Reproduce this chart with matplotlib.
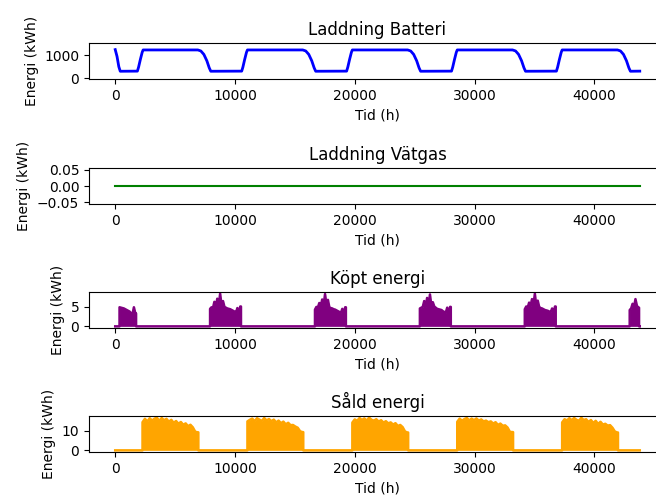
import numpy as np
import matplotlib
matplotlib.use("Agg")
import matplotlib.pyplot as plt

# ── data ──────────────────────────────────────────────────────────
N_HOURS = 43800

# battery state of charge, breakpoints (h, kWh)
batt_t = [0, 150, 300, 420, 1850, 1950, 2100, 2250, 2330,
          6900, 7150, 7400, 7650, 7850, 7980,
          10560, 10660, 10810, 10960, 11040,
          15660, 15910, 16160, 16410, 16610, 16740,
          19320, 19420, 19570, 19720, 19800,
          24420, 24670, 24920, 25170, 25370, 25500,
          28080, 28180, 28330, 28480, 28560,
          33180, 33430, 33680, 33930, 34130, 34260,
          36840, 36940, 37090, 37240, 37320,
          41940, 42190, 42440, 42690, 42890, 43020, 43799]
batt_kwh = [1250, 950, 500, 300, 305, 480, 820, 1130, 1235,
            1235, 1190, 1040, 760, 450, 300,
            305, 480, 820, 1130, 1235,
            1235, 1190, 1040, 760, 450, 300,
            305, 480, 820, 1130, 1235,
            1235, 1190, 1040, 760, 450, 300,
            305, 480, 820, 1130, 1235,
            1235, 1190, 1040, 760, 450, 300,
            305, 480, 820, 1130, 1235,
            1235, 1190, 1040, 760, 450, 300, 305]

# hydrogen storage: empty the whole time
vatgas_t = [0, N_HOURS - 1]
vatgas_kwh = [0.0, 0.0]

# bought energy, winter blocks (start hour, values every KOPT_STEP h)
KOPT_STEP = 120
kopt_start = [360, 7920, 16680, 25440, 34200, 42960]
kopt_s1 = [4.9, 4.8, 4.7, 4.6, 4.4, 4.2, 4.0, 3.8, 3.4, 3.1, 4.9, 3.3]
kopt_s2 = [4.5, 4.9, 4.7, 6.3, 5.0, 7.1, 5.2, 8.4, 5.4, 6.5, 5.0,
           4.8, 4.6, 4.5, 4.4, 4.2, 4.0, 3.8, 3.5, 4.7, 3.3, 5.1]
kopt_s3 = [4.3, 5.0, 4.8, 6.0, 5.1, 6.9, 5.3, 8.3, 5.5, 6.8, 4.9,
           4.7, 4.6, 4.4, 4.3, 4.1, 3.9, 3.7, 3.4, 4.5, 3.2, 4.9]
kopt_s4 = [4.6, 4.8, 5.0, 6.5, 4.9, 7.3, 5.1, 8.2, 5.3, 6.2, 5.1,
           4.8, 4.5, 4.4, 4.3, 4.2, 3.9, 3.7, 3.5, 4.8, 3.3, 5.0]
kopt_s5 = [4.4, 5.1, 4.8, 6.1, 5.2, 7.0, 5.4, 8.4, 5.2, 6.6, 5.0,
           4.7, 4.6, 4.4, 4.2, 4.1, 4.0, 3.8, 3.6, 4.6, 3.4, 5.1]
kopt_s6 = [4.2, 4.6, 5.8, 4.9, 7.0, 5.3, 4.8]

# sold energy, summer blocks (start hour, values every SALD_STEP h)
SALD_STEP = 200
sald_start = [2280, 11040, 19800, 28560, 37320]
sald_s1 = [14.2, 15.9, 14.6, 16.2, 15.0, 16.0, 16.4, 14.9, 16.3, 15.2, 15.9, 14.4,
           15.4, 13.9, 14.8, 13.4, 14.3, 12.9, 13.6, 12.2, 12.9, 11.6, 9.4, 9.1]
sald_s2 = [14.6, 15.4, 16.0, 14.7, 16.2, 15.5, 14.8, 16.3, 15.1, 15.8, 14.7, 15.5,
           14.1, 15.0, 13.7, 14.5, 13.1, 13.9, 12.7, 12.8, 12.0, 11.4, 9.6, 9.2]
sald_s3 = [14.0, 15.6, 14.9, 16.3, 15.3, 16.1, 15.0, 16.5, 15.4, 15.0, 15.7, 14.5,
           15.2, 14.0, 14.7, 13.6, 14.1, 13.0, 13.7, 12.3, 12.8, 11.7, 9.5, 9.0]
sald_s4 = [14.4, 16.0, 14.9, 15.8, 16.3, 15.1, 16.0, 15.2, 16.1, 15.0, 15.6, 14.6,
           15.0, 14.2, 14.6, 13.5, 14.2, 12.8, 13.5, 12.4, 12.6, 11.5, 9.3, 9.2]
sald_s5 = [14.1, 15.7, 15.1, 16.2, 15.2, 16.3, 15.4, 14.9, 16.4, 15.3, 15.7, 14.3,
           15.3, 13.8, 14.9, 13.3, 14.4, 13.0, 13.4, 12.5, 12.7, 11.4, 9.5, 9.0]


def blocks(starts, seasons, step):
    """Bygger serien: noll mellan blocken, raka kanter i början och slutet."""
    t, v = [0], [0.0]
    for s, vals in zip(starts, seasons):
        t.append(s - 1)
        v.append(0.0)
        for i, val in enumerate(vals):
            t.append(s + step * i)
            v.append(val)
        end = min(s + step * (len(vals) - 1) + 60, N_HOURS - 1)
        t.append(end)
        v.append(vals[-1])
        if end < N_HOURS - 1:
            t.append(end + 1)
            v.append(0.0)
    if t[-1] < N_HOURS - 1:
        t.append(N_HOURS - 1)
        v.append(0.0)
    return np.array(t), np.array(v)


kopt_t, kopt_kwh = blocks(kopt_start, [kopt_s1, kopt_s2, kopt_s3, kopt_s4, kopt_s5, kopt_s6], KOPT_STEP)
sald_t, sald_kwh = blocks(sald_start, [sald_s1, sald_s2, sald_s3, sald_s4, sald_s5], SALD_STEP)

# ── figur ─────────────────────────────────────────────────────────
W, H = 656, 498
fig = plt.figure(figsize=(W / 100, H / 100), dpi=100)

tops = [43, 168, 292, 416]
axes = [fig.add_axes([89 / W, (H - top - 36) / H, 577 / W, 36 / H]) for top in tops]

ax = axes[0]
ax.plot(batt_t, batt_kwh, color="blue", lw=2)
ax.set_ylim(-40, 1540)
ax.set_title("Laddning Batteri")

ax = axes[1]
ax.plot(vatgas_t, vatgas_kwh, color="green", lw=1.5)
ax.set_title("Laddning Vätgas")

ax = axes[2]
ax.fill_between(kopt_t, 0, kopt_kwh, color="purple", lw=0)
ax.plot(kopt_t, kopt_kwh, color="purple", lw=1.8)
ax.set_title("Köpt energi")

ax = axes[3]
ax.fill_between(sald_t, 0, sald_kwh, color="orange", lw=0)
ax.plot(sald_t, sald_kwh, color="orange", lw=1.8)
ax.set_title("Såld energi")

for ax in axes:
    ax.set_xlim(-0.05 * N_HOURS, 1.05 * N_HOURS)
    ax.set_xlabel("Tid (h)")
    ax.set_ylabel("Energi (kWh)")

fig.savefig("out.png", dpi=100)
